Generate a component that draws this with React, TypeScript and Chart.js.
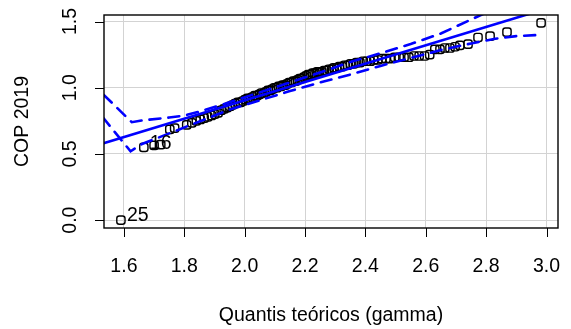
import React, { useEffect, useRef } from "react";
import { Chart, registerables } from "chart.js";

Chart.register(...registerables);

// Axis ticks and limits
const xTicks = [1.6, 1.8, 2.0, 2.2, 2.4, 2.6, 2.8, 3.0];
const yTicks = [0.0, 0.5, 1.0, 1.5];
const xLimits = [1.534, 3.038];
const yLimits = [-0.0596, 1.5496];

// Theoretical gamma quantiles (x) and sorted COP 2019 values (y)
const theoretical = [
  1.590, 1.666, 1.700, 1.722, 1.752, 1.768, 1.808, 1.825,
  1.840, 1.853, 1.866, 1.878, 1.890, 1.901, 1.912, 1.922, 1.932, 1.942,
  1.951, 1.960, 1.969, 1.978, 1.986, 1.994, 2.002, 2.010, 2.018, 2.026,
  2.034, 2.041, 2.049, 2.056, 2.064, 2.071, 2.078, 2.085, 2.092, 2.099,
  2.106, 2.113, 2.120, 2.127, 2.134, 2.141, 2.148, 2.155, 2.162, 2.169,
  2.176, 2.183, 2.190, 2.197, 2.204, 2.211, 2.219, 2.226, 2.233, 2.241,
  2.248, 2.256, 2.264, 2.272, 2.280, 2.288, 2.296, 2.305, 2.314, 2.323,
  2.332, 2.341, 2.351, 2.361, 2.371, 2.382, 2.393, 2.404, 2.416, 2.428,
  2.441, 2.454, 2.468, 2.482, 2.497, 2.512, 2.528, 2.544, 2.561, 2.578,
  2.596, 2.613, 2.630, 2.647, 2.663, 2.680, 2.697, 2.713, 2.740, 2.773,
  2.813, 2.869, 2.982,
];
const cop2019 = [
  0.00, 0.55, 0.565, 0.57, 0.685, 0.695, 0.72, 0.735,
  0.75, 0.76, 0.77, 0.78, 0.79, 0.80, 0.81, 0.83, 0.84, 0.85,
  0.86, 0.87, 0.88, 0.89, 0.89, 0.90, 0.91, 0.92, 0.92, 0.93,
  0.94, 0.94, 0.95, 0.96, 0.96, 0.97, 0.98, 0.98, 0.99, 1.00,
  1.00, 1.01, 1.01, 1.02, 1.02, 1.03, 1.04, 1.04, 1.05, 1.05,
  1.06, 1.07, 1.07, 1.08, 1.09, 1.10, 1.10, 1.11, 1.11, 1.12,
  1.12, 1.12, 1.13, 1.13, 1.14, 1.14, 1.15, 1.15, 1.16, 1.16,
  1.17, 1.17, 1.18, 1.18, 1.19, 1.19, 1.20, 1.20, 1.20, 1.21,
  1.21, 1.22, 1.22, 1.22, 1.23, 1.23, 1.23, 1.23, 1.24, 1.24,
  1.24, 1.25, 1.29, 1.29, 1.30, 1.30, 1.31, 1.32, 1.33, 1.38,
  1.39, 1.42, 1.49,
];

// Identified observations
const idIndex = [0, 1];
const idLabels = ["25", "16"];

// Reference line
const lineIntercept = -0.481;
const lineSlope = 0.693;

// Confidence envelope
const upperX = [1.50, 1.626, 1.666, 1.75, 1.80, 1.85, 1.95, 2.05, 2.15, 2.25, 2.35, 2.45, 2.55, 2.65, 2.75, 2.85, 2.98];
const upperY = [1.02, 0.74, 0.755, 0.775, 0.79, 0.82, 0.89, 0.965, 1.04, 1.115, 1.195, 1.26, 1.33, 1.41, 1.515, 1.62, 1.76];
const lowerX = [1.50, 1.622, 1.66, 1.75, 1.85, 1.95, 2.05, 2.15, 2.25, 2.35, 2.45, 2.55, 2.65, 2.75, 2.83, 2.90, 2.98];
const lowerY = [0.86, 0.52, 0.575, 0.655, 0.745, 0.835, 0.905, 0.975, 1.04, 1.10, 1.165, 1.225, 1.285, 1.335, 1.37, 1.39, 1.40];

const xTitle = "Quantis teóricos (gamma)";
const yTitle = "COP 2019";

const FONT = '19.5px "Liberation Sans", Arial, Helvetica, sans-serif';
const BLUE = "#0000ff";

const frame = {
  id: "frame",
  afterDatasetsDraw(chart: any) {
    const ctx = chart.ctx;
    const meta = chart.getDatasetMeta(3);
    ctx.save();
    ctx.font = FONT;
    ctx.fillStyle = "#000";
    ctx.textAlign = "left";
    ctx.textBaseline = "middle";
    idIndex.forEach((idx, k) => {
      const pt = meta.data[idx];
      ctx.fillText(idLabels[k], pt.x + 6, pt.y - 4);
    });
    ctx.restore();
  },
  afterDraw(chart: any) {
    const ctx = chart.ctx;
    const area = chart.chartArea;
    const xs = chart.scales.x;
    const ys = chart.scales.y;
    ctx.save();
    ctx.strokeStyle = "#000";
    ctx.lineWidth = 1.4;
    ctx.strokeRect(area.left, area.top, area.right - area.left, area.bottom - area.top);

    ctx.lineWidth = 1;
    ctx.beginPath();
    xTicks.forEach((v) => {
      const px = Math.round(xs.getPixelForValue(v)) + 0.5;
      ctx.moveTo(px, area.bottom);
      ctx.lineTo(px, area.bottom + 9);
    });
    yTicks.forEach((v) => {
      const py = Math.round(ys.getPixelForValue(v)) + 0.5;
      ctx.moveTo(area.left, py);
      ctx.lineTo(area.left - 9, py);
    });
    ctx.stroke();

    ctx.font = FONT;
    ctx.fillStyle = "#000";
    ctx.textAlign = "center";
    ctx.textBaseline = "middle";
    xTicks.forEach((v) => {
      ctx.fillText(v.toFixed(1), xs.getPixelForValue(v), 266.5);
    });
    ctx.fillText(xTitle, (area.left + area.right) / 2, 316);

    yTicks.forEach((v) => {
      ctx.save();
      ctx.translate(71, ys.getPixelForValue(v));
      ctx.rotate(-Math.PI / 2);
      ctx.fillText(v.toFixed(1), 0, 0);
      ctx.restore();
    });
    ctx.save();
    ctx.translate(22.5, (area.top + area.bottom) / 2);
    ctx.rotate(-Math.PI / 2);
    ctx.fillText(yTitle, 0, 0);
    ctx.restore();
    ctx.restore();
  },
};

export default function App() {
  const canvasRef = useRef<HTMLCanvasElement | null>(null);

  useEffect(() => {
    const canvas = canvasRef.current;
    if (!canvas) return;

    const points = theoretical.map((x, i) => ({ x, y: cop2019[i] }));
    const refLine = [
      { x: 1.4, y: lineIntercept + lineSlope * 1.4 },
      { x: 3.2, y: lineIntercept + lineSlope * 3.2 },
    ];
    const upper = upperX.map((x, i) => ({ x, y: upperY[i] }));
    const lower = lowerX.map((x, i) => ({ x, y: lowerY[i] }));

    const envelopeStyle = {
      showLine: true,
      pointRadius: 0,
      borderColor: BLUE,
      borderWidth: 2.6,
      borderDash: [11, 8],
      borderDashOffset: -14,
      borderCapStyle: "round",
      fill: false,
      tension: 0,
      order: 0,
    };

    const chart = new Chart(canvas, {
      type: "scatter",
      data: {
        datasets: [
          {
            data: refLine,
            showLine: true,
            pointRadius: 0,
            borderColor: BLUE,
            borderWidth: 2.6,
            fill: false,
            order: 0,
          } as any,
          { data: upper, ...envelopeStyle } as any,
          { data: lower, ...envelopeStyle } as any,
          {
            data: points,
            pointStyle: "rectRounded",
            pointRadius: 4.8,
            pointBorderWidth: 1.4,
            borderColor: "#000",
            pointBorderColor: "#000",
            backgroundColor: "rgba(0,0,0,0)",
            pointBackgroundColor: "rgba(0,0,0,0)",
            order: 1,
          } as any,
        ],
      },
      options: {
        animation: false,
        responsive: false,
        devicePixelRatio: 1,
        layout: { padding: { left: 104, top: 15, right: 13, bottom: 101 } },
        plugins: {
          legend: { display: false },
          tooltip: { enabled: false },
        },
        events: [],
        scales: {
          x: {
            type: "linear",
            min: xLimits[0],
            max: xLimits[1],
            afterBuildTicks: (s: any) => {
              s.ticks = xTicks.map((value) => ({ value }));
            },
            ticks: { display: false },
            grid: { color: "#d3d3d3", lineWidth: 1, drawTicks: false },
            border: { display: false },
          },
          y: {
            type: "linear",
            min: yLimits[0],
            max: yLimits[1],
            afterBuildTicks: (s: any) => {
              s.ticks = yTicks.map((value) => ({ value }));
            },
            ticks: { display: false },
            grid: { color: "#d3d3d3", lineWidth: 1, drawTicks: false },
            border: { display: false },
          },
        },
      },
      plugins: [frame],
    });

    return () => chart.destroy();
  }, []);

  return (
    <div style={{ position: "fixed", left: 0, top: 0, width: 571, height: 329, background: "#fff" }}>
      <canvas ref={canvasRef} width={571} height={329} style={{ display: "block" }} />
    </div>
  );
}
